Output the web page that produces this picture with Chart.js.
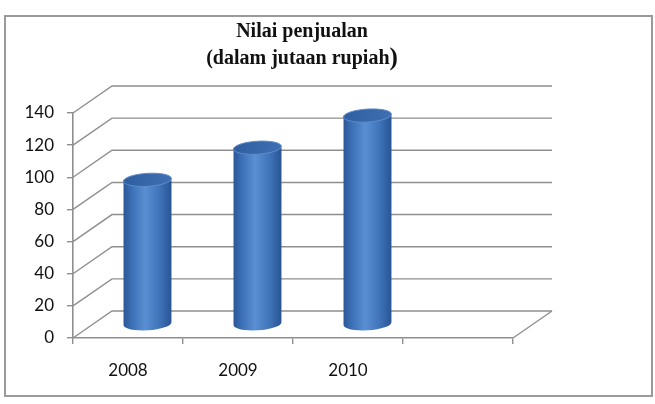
<!DOCTYPE html>
<html>
<head>
<meta charset="utf-8">
<script src="https://cdn.jsdelivr.net/npm/chart.js@4.4.0/dist/chart.umd.min.js"></script>
<style>
    body { margin: 0; background: #fff; }
</style>
</head>
<body>
<canvas id="salesChart" width="655" height="404"></canvas>
<script>
// Data
const years = ["2008", "2009", "2010", ""];
const sales = [90, 110, 130, null];
const yMin = 0;
const yMax = 140;
const yStep = 20;
const titleLine1 = "Nilai penjualan";
const titleLine2 = "(dalam jutaan rupiah";

// 3D look
const DX = 39;
const DY = -27;
const lineColor = "#8f8f8f";

// Frame + title
const framePlugin = {
    id: "frame",
    beforeDraw(chart) {
        const ctx = chart.ctx;
        ctx.save();
        ctx.fillStyle = "#fff";
        ctx.fillRect(0, 0, chart.width, chart.height);
        ctx.strokeStyle = "#9a9a9a";
        ctx.lineWidth = 2;
        ctx.strokeRect(5, 16, 647, 380);

        ctx.fillStyle = "#111";
        ctx.textBaseline = "alphabetic";
        ctx.font = 'bold 20px "Liberation Serif"';
        ctx.textAlign = "center";
        ctx.fillText(titleLine1, 302, 37);

        const w1 = ctx.measureText(titleLine2).width;
        ctx.font = 'bold 25px "Liberation Serif"';
        const w2 = ctx.measureText(")").width;
        const start = 302 - (w1 + w2) / 2;
        ctx.textAlign = "left";
        ctx.font = 'bold 20px "Liberation Serif"';
        ctx.fillText(titleLine2, start, 64);
        ctx.font = 'bold 25px "Liberation Serif"';
        ctx.fillText(")", start + w1, 65);
        ctx.restore();
    },
};

// Back wall, side wall and floor
const wallPlugin = {
    id: "wall3d",
    beforeDatasetsDraw(chart) {
        const { ctx, chartArea: a, scales } = chart;
        const y = scales.y;
        ctx.save();
        ctx.strokeStyle = lineColor;
        ctx.lineWidth = 1.4;
        y.ticks.forEach((t) => {
            const py = y.getPixelForValue(t.value);
            ctx.beginPath();
            ctx.moveTo(a.left, py);
            ctx.lineTo(a.left + DX, py + DY);
            ctx.lineTo(a.right + DX, py + DY);
            ctx.stroke();
        });
        ctx.beginPath();
        ctx.moveTo(a.right, a.bottom);
        ctx.lineTo(a.right + DX, a.bottom + DY);
        ctx.stroke();
        ctx.restore();
    },
};

// Cylinders
const cylinderPlugin = {
    id: "cylinders",
    afterDatasetsDraw(chart) {
        const ctx = chart.ctx;
        const meta = chart.getDatasetMeta(0);
        meta.data.forEach((bar, i) => {
            if (sales[i] == null) return;
            const cx = bar.x + DX / 2;
            const top = bar.y + DY / 2;
            const base = bar.base + DY / 2;
            const rx = bar.width / 2;
            const ry = 6.5;
            const rot = -0.06;

            ctx.save();
            const grad = ctx.createLinearGradient(cx - rx, 0, cx + rx, 0);
            grad.addColorStop(0, "#2b5797");
            grad.addColorStop(0.18, "#3d71b7");
            grad.addColorStop(0.45, "#5b8fd3");
            grad.addColorStop(0.75, "#3f74ba");
            grad.addColorStop(1, "#295493");
            ctx.fillStyle = grad;
            ctx.beginPath();
            ctx.moveTo(cx - rx, top);
            ctx.lineTo(cx - rx, base);
            ctx.ellipse(cx, base, rx, ry, rot, Math.PI, 0, true);
            ctx.lineTo(cx + rx, top);
            ctx.closePath();
            ctx.fill();

            const tg = ctx.createLinearGradient(cx - rx, top - ry, cx + rx, top + ry);
            tg.addColorStop(0, "#2f5e9f");
            tg.addColorStop(1, "#3f70b3");
            ctx.fillStyle = tg;
            ctx.strokeStyle = "#5d8ccc";
            ctx.lineWidth = 1;
            ctx.beginPath();
            ctx.ellipse(cx, top, rx, ry, rot, 0, Math.PI * 2);
            ctx.fill();
            ctx.stroke();
            ctx.restore();
        });
    },
};

const salesChart = new Chart(document.getElementById("salesChart"), {
    type: "bar",
    data: {
        labels: years,
        datasets: [
            {
                label: "Nilai penjualan",
                data: sales,
                backgroundColor: "rgba(0,0,0,0)",
                borderWidth: 0,
                categoryPercentage: 1,
                barPercentage: 0.436,
            },
        ],
    },
    options: {
        responsive: false,
        animation: false,
        layout: {
            padding: { left: 0, right: 142, top: 113, bottom: 0 },
        },
        plugins: {
            legend: { display: false },
            tooltip: { enabled: false },
            title: { display: false },
        },
        scales: {
            x: {
                afterFit(scale) {
                    scale.height = 66;
                },
                grid: {
                    drawOnChartArea: false,
                    drawTicks: true,
                    tickLength: 6,
                    color: lineColor,
                    lineWidth: 1.4,
                },
                border: { display: true, color: lineColor, width: 1.6 },
                ticks: {
                    color: "#111",
                    padding: 16,
                    font: { family: "Lato", size: 17 },
                },
            },
            y: {
                min: yMin,
                max: yMax,
                afterFit(scale) {
                    scale.width = 73;
                },
                grid: {
                    drawOnChartArea: false,
                    drawTicks: true,
                    tickLength: 6,
                    color: lineColor,
                    lineWidth: 1.4,
                },
                border: { display: true, color: lineColor, width: 1.6 },
                ticks: {
                    stepSize: yStep,
                    color: "#111",
                    padding: 13,
                    font: { family: "Lato", size: 17 },
                },
            },
        },
    },
    plugins: [framePlugin, wallPlugin, cylinderPlugin],
});
</script>
</body>
</html>
